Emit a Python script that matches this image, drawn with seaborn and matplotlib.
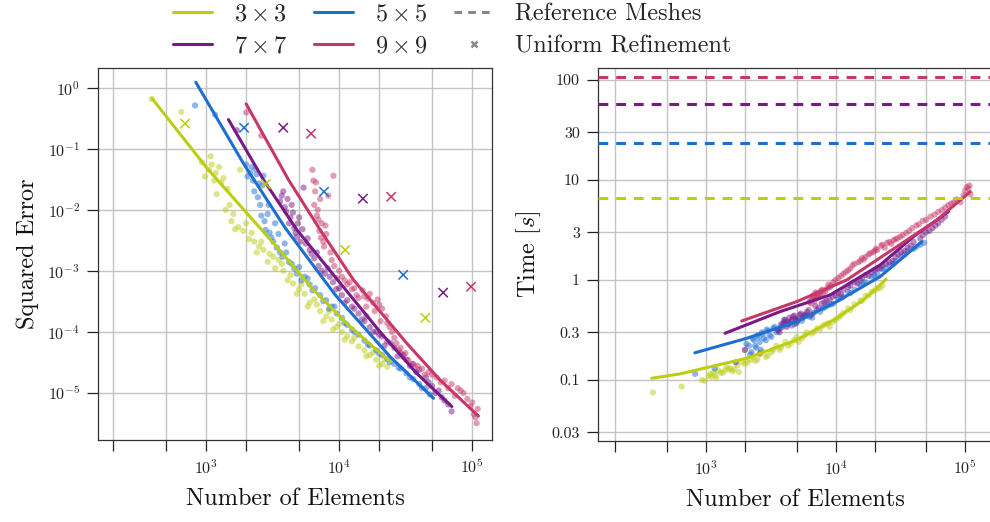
import matplotlib
matplotlib.use("Agg")
import matplotlib.pyplot as plt
import matplotlib.ticker as mticker
from matplotlib.lines import Line2D
import numpy as np
import pandas as pd
import seaborn as sns

# ---------------------------------------------------------------- data
sizes = ["3x3", "5x5", "7x7", "9x9"]
size_labels = [r"$3\times 3$", r"$5\times 5$", r"$7\times 7$", r"$9\times 9$"]
colors = ["#bccd14", "#1e6ed2", "#781987", "#c83769"]

# adaptive runs: number of elements, squared error, wall time [s]
n_3 = [390, 650, 930, 980, 1050, 1080, 1150, 1200, 1250, 1300, 1400, 1450, 1550,
       1650, 1750, 1800, 1900, 2100, 2300, 2500, 2700, 3000, 3300, 3500, 3800,
       4100, 4500, 5000, 5500, 6000, 6500, 7200, 8000, 8800, 9500, 10500, 11500,
       12500, 14000, 15500, 17000, 19000, 21000, 23000,
       1100, 1180, 1350, 1500, 1600, 2000, 2200, 2400, 2600, 2900, 3200, 3700,
       4300, 4800, 5200, 5800, 6800, 7600, 8400, 9000, 10000, 11000, 13000,
       16000, 18000, 20000, 22000]
err_3 = [0.65, 0.40, 0.060, 0.035, 0.045, 0.075, 0.030, 0.018, 0.050, 0.028,
         0.010, 0.022, 0.0065, 0.0048, 0.0052, 0.045, 0.0045, 0.0033, 0.0030,
         0.0025, 0.0022, 0.0019, 0.0011, 0.0015, 0.0010, 7.0e-4, 6.2e-4, 5.0e-4,
         4.2e-4, 3.0e-4, 3.4e-4, 2.2e-4, 1.8e-4, 1.6e-4, 1.2e-4, 1.0e-4, 8.5e-5,
         7.0e-5, 5.8e-5, 5.0e-5, 4.2e-5, 3.5e-5, 3.0e-5, 2.7e-5,
         0.055, 0.040, 0.033, 0.012, 0.0085, 0.0060, 0.0042, 0.0020, 0.0030,
         0.0014, 0.0017, 0.0013, 8.5e-4, 4.2e-4, 6.0e-4, 2.6e-4, 2.8e-4, 1.5e-4,
         2.2e-4, 1.1e-4, 1.35e-4, 7.5e-5, 8.0e-5, 4.0e-5, 4.6e-5, 2.8e-5, 3.6e-5]
time_3 = [0.075, 0.086, 0.100, 0.098, 0.110, 0.115, 0.120, 0.105, 0.125, 0.118,
          0.125, 0.135, 0.130, 0.128, 0.140, 0.120, 0.150, 0.150, 0.170, 0.160,
          0.190, 0.175, 0.200, 0.220, 0.210, 0.240, 0.230, 0.270, 0.260, 0.300,
          0.290, 0.330, 0.350, 0.370, 0.380, 0.420, 0.470, 0.520, 0.570, 0.620,
          0.690, 0.760, 0.820, 0.880,
          0.108, 0.112, 0.118, 0.128, 0.122, 0.145, 0.160, 0.155, 0.180, 0.170,
          0.190, 0.200, 0.220, 0.250, 0.240, 0.280, 0.300, 0.320, 0.360, 0.340,
          0.400, 0.440, 0.500, 0.620, 0.700, 0.780, 0.830]

n_5 = [826, 1170, 2000, 2150, 2250, 2350, 2450, 2500, 2600, 2700, 2800, 2950,
       3100, 3300, 3600, 3900, 4200, 4600, 5000, 5500, 6000, 6600, 7200, 8000,
       8800, 9600, 10500, 11500, 12500, 14000, 15500, 17000, 19000, 21000, 23000,
       26000, 29000, 32000, 36000, 40000, 45000,
       2050, 2200, 2300, 2400, 2550, 2650, 2750, 2900, 3000, 3200, 3400, 3500,
       3750, 4000, 4400, 4800, 5200, 5800, 6300, 7600, 8400, 9200, 11000, 13000,
       16500, 20000, 24000, 28000, 34000, 42000, 48000]
err_5 = [0.51, 0.36, 0.055, 0.040, 0.030, 0.046, 0.016, 0.027, 0.008, 0.036,
         0.0047, 0.012, 0.0035, 0.0060, 0.0020, 0.0028, 0.0014, 0.0011, 0.00115,
         8.0e-4, 6.0e-4, 5.2e-4, 4.0e-4, 3.3e-4, 2.6e-4, 2.0e-4, 1.7e-4, 1.3e-4,
         1.1e-4, 9.0e-5, 7.2e-5, 6.0e-5, 5.0e-5, 4.2e-5, 3.6e-5, 3.0e-5, 2.5e-5,
         2.1e-5, 1.7e-5, 1.4e-5, 1.2e-5,
         0.035, 0.050, 0.020, 0.038, 0.012, 0.025, 0.0065, 0.0085, 0.0042, 0.0030,
         0.0024, 0.0040, 0.0017, 0.0020, 0.0013, 9.0e-4, 7.0e-4, 7.5e-4, 4.8e-4,
         3.2e-4, 2.4e-4, 2.6e-4, 1.4e-4, 1.0e-4, 6.2e-5, 4.4e-5, 3.2e-5, 2.6e-5,
         1.8e-5, 1.2e-5, 9.5e-6]
time_5 = [0.115, 0.130, 0.200, 0.220, 0.190, 0.250, 0.210, 0.280, 0.240, 0.300,
          0.260, 0.320, 0.280, 0.330, 0.310, 0.360, 0.380, 0.350, 0.400, 0.390,
          0.440, 0.420, 0.500, 0.520, 0.560, 0.580, 0.640, 0.680, 0.760, 0.800,
          0.900, 0.950, 1.080, 1.150, 1.280, 1.400, 1.550, 1.700, 1.950, 2.050,
          2.250,
          0.230, 0.180, 0.260, 0.220, 0.270, 0.200, 0.290, 0.250, 0.310, 0.270,
          0.340, 0.300, 0.330, 0.400, 0.370, 0.360, 0.410, 0.450, 0.430, 0.480,
          0.540, 0.570, 0.660, 0.740, 0.920, 1.100, 1.300, 1.450, 1.800, 2.150,
          2.350]

n_7 = [1700, 3600, 3800, 4000, 4200, 4400, 4600, 4800, 5000, 5400, 5600, 6000,
       6500, 7000, 7800, 8500, 9500, 10500, 11500, 12500, 14000, 15500, 17000,
       19000, 21000, 23000, 26000, 29000, 32000, 36000, 40000, 45000, 50000,
       56000, 62000, 70000,
       3700, 3900, 4100, 4300, 4500, 4700, 4900, 5100, 5300, 5800, 6200, 6800,
       7400, 8200, 9000, 10000, 11000, 13000, 14800, 16000, 18000, 20000, 22000,
       24500, 27500, 30500, 34000, 38000, 47000, 53000, 59000, 66000]
err_7 = [0.20, 0.0137, 0.020, 0.0093, 0.0060, 0.012, 0.0050, 0.0036, 0.0075,
         0.023, 0.0028, 0.0022, 0.0016, 0.0012, 9.0e-4, 8.0e-4, 5.0e-4, 4.0e-4,
         3.3e-4, 2.6e-4, 2.0e-4, 1.5e-4, 1.2e-4, 1.0e-4, 8.5e-5, 7.0e-5, 5.5e-5,
         4.5e-5, 3.5e-5, 3.0e-5, 2.4e-5, 1.8e-5, 1.3e-5, 1.1e-5, 7.5e-6, 5.0e-6,
         0.017, 0.011, 0.015, 0.0075, 0.0090, 0.0042, 0.0060, 0.0030, 0.0048,
         0.0034, 0.0019, 0.0020, 0.0010, 0.0011, 6.5e-4, 5.2e-4, 3.0e-4, 2.4e-4,
         1.6e-4, 1.8e-4, 1.0e-4, 9.0e-5, 6.0e-5, 6.5e-5, 4.0e-5, 4.2e-5, 2.8e-5,
         2.2e-5, 1.5e-5, 1.0e-5, 8.5e-6, 6.5e-6]
time_7 = [0.150, 0.320, 0.360, 0.380, 0.340, 0.420, 0.400, 0.440, 0.370, 0.460,
          0.420, 0.480, 0.450, 0.550, 0.580, 0.620, 0.680, 0.740, 0.800, 0.850,
          0.950, 1.000, 1.120, 1.200, 1.300, 1.400, 1.500, 1.700, 1.900, 2.100,
          2.400, 2.600, 3.000, 3.300, 3.700, 4.300,
          0.300, 0.340, 0.400, 0.360, 0.380, 0.430, 0.410, 0.390, 0.450, 0.440,
          0.500, 0.470, 0.520, 0.600, 0.640, 0.700, 0.720, 0.880, 0.920, 1.050,
          1.100, 1.250, 1.300, 1.450, 1.550, 1.800, 1.950, 2.200, 2.800, 3.100,
          3.500, 4.000]

n_9 = [2000, 2600, 6300, 6600, 6700, 6900, 7000, 7300, 7600, 7900, 8300, 9060,
       8800, 9600, 10500, 11500, 12500, 13500, 15000, 16500, 18000, 19500, 21000,
       22500, 24000, 26000, 28000, 30000, 33000, 37000, 42000, 47000, 54000,
       62000, 70000, 78000, 86000, 92000, 97000, 103000, 108000, 110000,
       6400, 6500, 6800, 7100, 7200, 7400, 7700, 8000, 8600, 9200, 10000, 11000,
       12000, 13000, 14000, 15500, 16000, 17000, 18500, 20000, 20500, 23000,
       25000, 27000, 29000, 31500, 35000, 39000, 44000, 50000, 58000, 66000,
       74000, 82000, 100000, 106000]
err_9 = [0.39, 0.163, 0.045, 0.020, 0.028, 0.010, 0.0069, 0.0035, 0.0030,
         0.0055, 0.017, 0.036, 0.0015, 7.6e-4, 8.0e-4, 6.0e-4, 5.0e-4, 4.0e-4,
         4.8e-4, 3.5e-4, 3.0e-4, 3.4e-4, 2.4e-4, 1.8e-4, 1.2e-4, 8.0e-5, 5.0e-5,
         4.0e-5, 3.5e-5, 2.7e-5, 2.5e-5, 2.2e-5, 1.8e-5, 1.6e-5, 1.4e-5, 1.2e-5,
         1.0e-5, 8.0e-6, 6.0e-6, 4.5e-6, 3.2e-6, 5.5e-6,
         0.030, 0.012, 0.0080, 0.0045, 0.015, 0.0060, 0.0025, 0.0040, 0.0020,
         0.0012, 0.0010, 7.0e-4, 6.5e-4, 5.2e-4, 3.6e-4, 3.8e-4, 2.6e-4, 4.2e-4,
         2.2e-4, 2.8e-4, 1.5e-4, 1.4e-4, 1.0e-4, 6.5e-5, 5.5e-5, 4.5e-5, 3.0e-5,
         2.8e-5, 2.0e-5, 2.0e-5, 1.5e-5, 1.2e-5, 9.0e-6, 1.1e-5, 7.0e-6, 4.0e-6]
time_9 = [0.200, 0.185, 0.600, 0.650, 0.700, 0.620, 0.750, 0.680, 0.720, 0.800,
          0.770, 0.850, 0.900, 0.950, 1.050, 1.150, 1.250, 1.400, 1.500, 1.600,
          1.800, 1.900, 2.000, 2.200, 2.100, 2.400, 2.500, 2.600, 2.800, 3.100,
          3.500, 3.900, 4.300, 4.800, 5.300, 5.800, 6.400, 6.000, 7.000, 8.500,
          8.800, 7.200,
          0.620, 0.580, 0.680, 0.660, 0.740, 0.700, 0.780, 0.740, 0.820, 0.880,
          1.000, 1.100, 1.200, 1.300, 1.450, 1.550, 1.650, 1.700, 1.850, 1.950,
          2.050, 2.250, 2.350, 2.300, 2.550, 2.700, 2.950, 3.300, 3.600, 4.000,
          4.500, 5.000, 5.600, 6.000, 7.800, 8.200]

# fitted trends, error panel
fit_err_n = {
    "3x3": [393, 1012, 3206, 6412, 12106, 24155],
    "5x5": [837, 1932, 3926, 9333, 24155, 51170],
    "7x7": [1472, 2698, 4808, 10186, 20324, 38370, 70310],
    "9x9": [2000, 4159, 7194, 12823, 32280, 57410, 111400],
}
fit_err = {
    "3x3": [0.661, 0.0483, 0.00284, 4.89e-4, 1.22e-4, 3.26e-5],
    "5x5": [1.22, 0.0547, 0.00507, 4.05e-4, 3.94e-5, 8.2e-6],
    "7x7": [0.299, 0.031, 0.0047, 6.3e-4, 1.0e-4, 2.09e-5, 6.0e-6],
    "9x9": [0.54, 0.031, 0.0047, 7.1e-4, 6.5e-5, 1.63e-5, 4.2e-6],
}

# fitted trends, time panel
fit_time_n = {
    "3x3": [381, 630, 2061, 5012, 10210, 16410, 24550],
    "5x5": [822, 2061, 5012, 10210, 22080, 46340],
    "7x7": [1403, 3724, 9078, 22080, 39900, 74300],
    "9x9": [1888, 5012, 12190, 29720, 60530, 109400],
}
fit_time = {
    "3x3": [0.104, 0.115, 0.165, 0.251, 0.414, 0.631, 1.016],
    "5x5": [0.187, 0.261, 0.383, 0.607, 1.08, 2.415],
    "7x7": [0.293, 0.482, 0.708, 1.413, 2.71, 4.82],
    "9x9": [0.389, 0.607, 1.0, 2.153, 3.98, 7.64],
}

# uniform refinement runs
uni_n = {
    "3x3": [695, 2810, 11100, 44400],
    "5x5": [1930, 7700, 30300],
    "7x7": [3800, 15100, 60500],
    "9x9": [6150, 24600, 98000],
}
uni_err = {
    "3x3": [0.257, 0.0264, 2.2e-3, 1.7e-4],
    "5x5": [0.22, 0.0197, 8.6e-4],
    "7x7": [0.22, 0.0152, 4.4e-4],
    "9x9": [0.176, 0.0163, 5.5e-4],
}

# time to solve on the reference meshes [s]
ref_time = [6.6, 23.4, 57.5, 107.0]

time_ticks = [0.03, 0.1, 0.3, 1, 3, 10, 30, 100]
time_tick_labels = ["0.03", "0.1", "0.3", "1", "3", "10", "30", "100"]

# ---------------------------------------------------------------- frames
runs = pd.concat([
    pd.DataFrame({"size": s, "n": n, "err": e, "time": t})
    for s, n, e, t in zip(sizes, [n_3, n_5, n_7, n_9], [err_3, err_5, err_7, err_9],
                          [time_3, time_5, time_7, time_9])
], ignore_index=True)
fits_err = pd.concat([pd.DataFrame({"size": s, "n": fit_err_n[s], "err": fit_err[s]})
                      for s in sizes], ignore_index=True)
fits_time = pd.concat([pd.DataFrame({"size": s, "n": fit_time_n[s], "time": fit_time[s]})
                       for s in sizes], ignore_index=True)
uniform = pd.concat([pd.DataFrame({"size": s, "n": uni_n[s], "err": uni_err[s]})
                     for s in sizes], ignore_index=True)
palette = dict(zip(sizes, colors))

# ---------------------------------------------------------------- style
sns.set_theme(style="whitegrid")
plt.rcParams.update({
    "font.family": ["cmr10", "DejaVu Sans"],
    "mathtext.fontset": "cm",
    "axes.formatter.use_mathtext": True,
    "axes.unicode_minus": True,
})

fig = plt.figure(figsize=(9.9, 5.22), dpi=100)
ax1 = fig.add_axes([0.099, 0.157, 0.398, 0.713])
ax2 = fig.add_axes([0.604, 0.155, 0.398, 0.715])

for ax in (ax1, ax2):
    ax.set_xscale("log")
    ax.set_yscale("log")

# ---------------------------------------------------------------- error panel
sns.scatterplot(data=runs, x="n", y="err", hue="size", palette=palette, s=20,
                alpha=0.5, linewidth=0, legend=False, ax=ax1, zorder=3)
sns.lineplot(data=fits_err, x="n", y="err", hue="size", palette=palette,
             estimator=None, sort=False, lw=2.2, legend=False, ax=ax1, zorder=4)
sns.scatterplot(data=uniform, x="n", y="err", hue="size", palette=palette,
                marker="x", s=45, linewidth=1.1, legend=False, ax=ax1, zorder=5)

# ---------------------------------------------------------------- time panel
sns.scatterplot(data=runs, x="n", y="time", hue="size", palette=palette, s=20,
                alpha=0.5, linewidth=0, legend=False, ax=ax2, zorder=3)
sns.lineplot(data=fits_time, x="n", y="time", hue="size", palette=palette,
             estimator=None, sort=False, lw=2.2, legend=False, ax=ax2, zorder=4)
for c, t in zip(colors, ref_time):
    ax2.axhline(t, color=c, lw=2.2, ls=(0, (3.2, 2.6)), zorder=4)


def decade_label(v, pos):
    e = np.log10(v)
    if abs(e - round(e)) < 1e-6:
        return r"$10^{%d}$" % int(round(e))
    return ""


for ax in (ax1, ax2):
    ax.xaxis.set_major_locator(mticker.LogLocator(base=10, subs=(1.0, 2.0, 5.0), numticks=20))
    ax.xaxis.set_major_formatter(mticker.FuncFormatter(decade_label))
    ax.xaxis.set_minor_locator(mticker.NullLocator())
    ax.yaxis.set_minor_locator(mticker.NullLocator())
    ax.grid(True, which="major", color="#c4c4c4", lw=1.0)
    ax.tick_params(axis="both", which="major", direction="out", length=8, width=0.9,
                   color="#222222", labelsize=11.5, labelcolor="#222222", pad=5,
                   bottom=True, left=True)
    for sp in ax.spines.values():
        sp.set_color("#333333")
        sp.set_linewidth(0.9)
    ax.set_xlabel("Number of Elements", fontsize=17.5, labelpad=8, color="#111111")

ax1.set_xlim(154, 141000)
ax1.set_ylim(1.7e-6, 2.1)
ax1.yaxis.set_major_locator(mticker.LogLocator(base=10, subs=(1.0,), numticks=20))
ax1.yaxis.set_major_formatter(mticker.FuncFormatter(decade_label))
ax1.set_ylabel("Squared Error", fontsize=17.5, labelpad=6, color="#111111")

ax2.set_xlim(147, 161000)
ax2.set_ylim(0.0245, 132)
ax2.yaxis.set_major_locator(mticker.FixedLocator(time_ticks))
ax2.yaxis.set_major_formatter(mticker.FixedFormatter(time_tick_labels))
ax2.set_ylabel(r"Time [$s$]", fontsize=17.5, labelpad=6, color="#111111")

# ---------------------------------------------------------------- legend
handles = [
    Line2D([], [], color=colors[0], lw=2.2),
    Line2D([], [], color=colors[2], lw=2.2),
    Line2D([], [], color=colors[1], lw=2.2),
    Line2D([], [], color=colors[3], lw=2.2),
    Line2D([], [], color="#888888", lw=2.2, ls=(0, (2.5, 2.0))),
    Line2D([], [], color="#888888", lw=0, marker="x", markersize=5, markeredgewidth=1.8),
]
labels = [size_labels[0], size_labels[2], size_labels[1], size_labels[3],
          "Reference Meshes", "Uniform Refinement"]
fig.legend(handles, labels, loc="upper center", bbox_to_anchor=(0.457, 1.035), ncol=3,
           frameon=False, fontsize=17.5, handlelength=1.6, columnspacing=1.1,
           handletextpad=0.9, labelspacing=0.4)

fig.savefig("out.png", dpi=100)
